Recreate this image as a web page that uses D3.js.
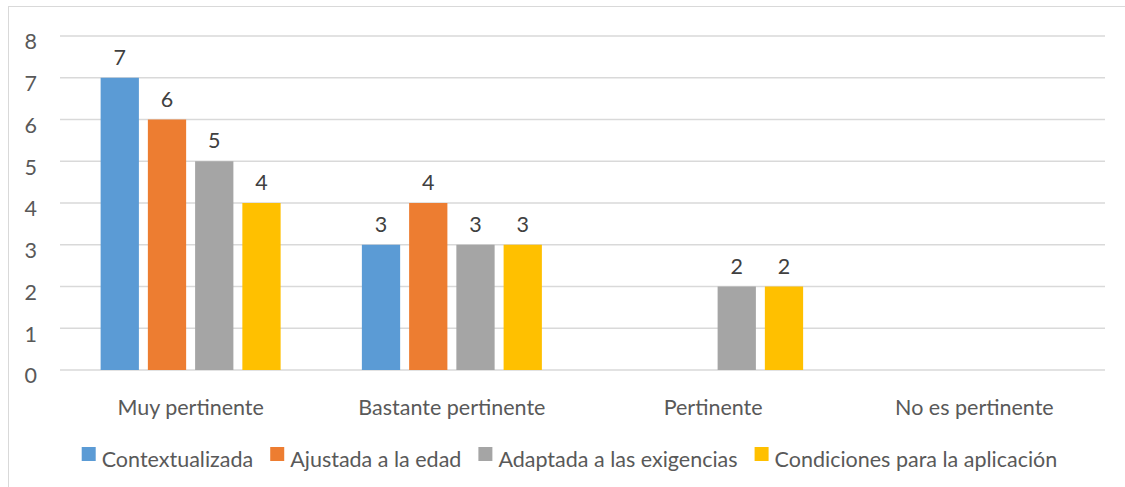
<!DOCTYPE html>
<html>
<head>
<meta charset="utf-8">
<script src="https://cdn.jsdelivr.net/npm/d3@7"></script>
<style>
  body{margin:0;background:#fff;}
  svg{display:block;font-family:Lato, "Open Sans", sans-serif;}
</style>
</head>
<body>
<svg width="1125" height="487"></svg>
<script>
// datos
const categories=['Muy pertinente','Bastante pertinente','Pertinente','No es pertinente']
const seriesNames=['Contextualizada','Ajustada a la edad','Adaptada a las exigencias','Condiciones para la aplicación']
const contextualizada=[7,3,0,0]
const ajustada=[6,4,0,0]
const adaptada=[5,3,2,0]
const condiciones=[4,3,2,0]
const yTicks=[0,1,2,3,4,5,6,7,8]
const colors=['#5b9bd5','#ed7d31','#a5a5a5','#ffc000']

const seriesValues=[contextualizada,ajustada,adaptada,condiciones]
const fs=21.5
const fontFam='Lato, "Open Sans", sans-serif'

const svg=d3.select('svg')
const width=+svg.attr('width')
const height=+svg.attr('height')

// marco
svg.append('rect')
  .attr('x',8.5).attr('y',6.5)
  .attr('width',width+10).attr('height',height+10)
  .attr('fill','none').attr('stroke','#d9d9d9').attr('stroke-width',1)

const plotL=60, plotR=1105, plotT=36, plotB=370

const x0=d3.scaleBand().domain(categories).range([plotL,plotR]).padding(0)
const x1=d3.scaleBand().domain(seriesNames).range([-90,90]).paddingInner(0.19)
const y=d3.scaleLinear().domain([0,8]).range([plotB,plotT])

//rejilla
svg.append('g').selectAll('line').data(yTicks).join('line')
  .attr('x1',plotL).attr('x2',plotR)
  .attr('y1',d=>y(d)).attr('y2',d=>y(d))
  .attr('stroke','#d9d9d9').attr('stroke-width',1.3)

//eje y
const yAxis=svg.append('g').attr('transform',`translate(37,6)`)
  .call(d3.axisLeft(y).tickValues(yTicks).tickSize(0).tickPadding(0))
yAxis.select('.domain').remove()
yAxis.selectAll('text').attr('font-size',fs).attr('fill','#595959').attr('font-family',fontFam)

//eje x
const xAxis=svg.append('g').attr('transform',`translate(0,${plotB})`)
  .call(d3.axisBottom(x0).tickSize(0))
xAxis.select('.domain').remove()
xAxis.selectAll('text').attr('y',45).attr('dy',null)
  .attr('font-size',fs).attr('fill','#595959').attr('font-family',fontFam)

// barras
const groups=svg.append('g').selectAll('g').data(categories).join('g')
  .attr('transform',d=>`translate(${x0(d)+x0.bandwidth()/2},0)`)

groups.each(function(cat,ci){
  const g=d3.select(this)
  seriesNames.forEach((s,si)=>{
    const v=seriesValues[si][ci]
    if(!v) return
    g.append('rect')
      .attr('x',x1(s)).attr('y',y(v))
      .attr('width',x1.bandwidth()).attr('height',y(0)-y(v))
      .attr('fill',colors[si])
    g.append('text')
      .attr('x',x1(s)+x1.bandwidth()/2).attr('y',y(v)-13)
      .attr('text-anchor','middle').attr('font-size',fs).attr('fill','#404040')
      .text(v)
  })
})

// leyenda
const legend=svg.append('g')
const items=legend.selectAll('g').data(seriesNames).join('g')
items.append('rect').attr('width',14).attr('height',14).attr('y',-20)
  .attr('fill',(d,i)=>colors[i])
items.append('text').attr('x',20).attr('y',0).attr('font-size',fs).attr('fill','#595959').text(d=>d)
const gap=17
let pos=0
const ws=[]
items.each(function(){
  const w=20+this.querySelector('text').getComputedTextLength()
  ws.push(pos)
  pos+=w+gap
})
const total=pos-gap
const startX=569.5-total/2
items.attr('transform',(d,i)=>`translate(${startX+ws[i]},467)`)
</script>
</body>
</html>
